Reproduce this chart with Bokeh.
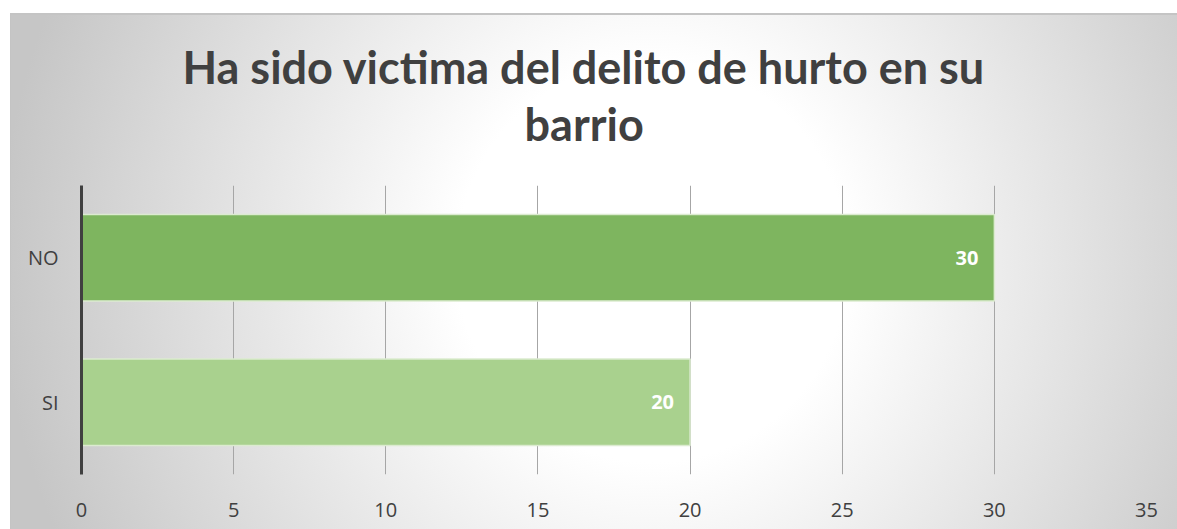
from bokeh.plotting import figure
from bokeh.models import ColumnDataSource, Range1d, FactorRange, LabelSet, Title, FixedTicker
from bokeh.core.properties import value
from bokeh.embed import file_html
from bokeh.resources import INLINE

categories = ["SI", "NO"]
values = [20, 30]
bar_colors = ["#a9d18e", "#7eb55f"]
labels = ["20", "30"]
x_ticks = [0, 5, 10, 15, 20, 25, 30, 35]
title_line1 = "Ha sido victima del delito de hurto en su"
title_line2 = "barrio"

source = ColumnDataSource(dict(cat=categories, val=values, color=bar_colors, lab=labels))

p = figure(width=1167, height=516, y_range=FactorRange(*categories),
           x_range=Range1d(0, 35), output_backend="svg", toolbar_location=None,
           title=None)
p.margin = (13, 0, 0, 10)
p.border_fill_color = None
p.background_fill_color = None
p.outline_line_color = None
p.styles = {
    "background": "radial-gradient(ellipse 56% 130% at 55% 48%, #ffffff 0%, #ffffff 30%, #c6c6c6 100%)",
    "border-top": "2px solid #c4c4c4",
    "border-left": "1px solid #c4c4c4",
}

p.min_border_left = 70
p.min_border_right = 32
p.min_border_bottom = 57
p.min_border_top = 20

title_style = dict(text_font="Lato", text_font_style="bold", text_font_size="45px",
                   text_color="#404040")
# spacer between frame and title block
p.add_layout(Title(text=" ", text_font="Lato", text_font_size="12px", standoff=18), "above")
p.add_layout(Title(text=title_line2, align="left", offset=443, standoff=0, **title_style), "above")
p.add_layout(Title(text=title_line1, align="left", offset=101, standoff=2, **title_style), "above")
# spacer at the top
p.add_layout(Title(text=" ", text_font="Lato", text_font_size="12px", standoff=4), "above")

p.hbar(y="cat", right="val", left=0, height=0.6, fill_color="color", line_color="#dcebd0",
       line_width=1.5, source=source)

p.add_layout(LabelSet(x="val", y="cat", text="lab", source=source, x_offset=-16,
                      text_align="right", text_baseline="middle", text_color="white",
                      text_font=value("Open Sans"), text_font_style="bold", text_font_size="20px"))

p.xaxis.ticker = FixedTicker(ticks=x_ticks)
p.xaxis.axis_line_color = None
p.xaxis.major_tick_line_color = None
p.xaxis.minor_tick_line_color = None
p.xaxis.major_label_text_font = "Open Sans"
p.xaxis.major_label_text_font_size = "20px"
p.xaxis.major_label_text_color = "#404040"
p.xaxis.major_label_standoff = 22

p.yaxis.axis_line_color = "#404040"
p.yaxis.axis_line_width = 3
p.yaxis.major_tick_line_color = None
p.yaxis.minor_tick_line_color = None
p.yaxis.major_label_text_font = "Open Sans"
p.yaxis.major_label_text_font_size = "20px"
p.yaxis.major_label_text_color = "#404040"
p.yaxis.major_label_standoff = 17

p.xgrid.grid_line_color = "#a6a6a6"
p.xgrid.grid_line_width = 1
p.ygrid.grid_line_color = None

open("out.html", "w").write(file_html(p, INLINE))
